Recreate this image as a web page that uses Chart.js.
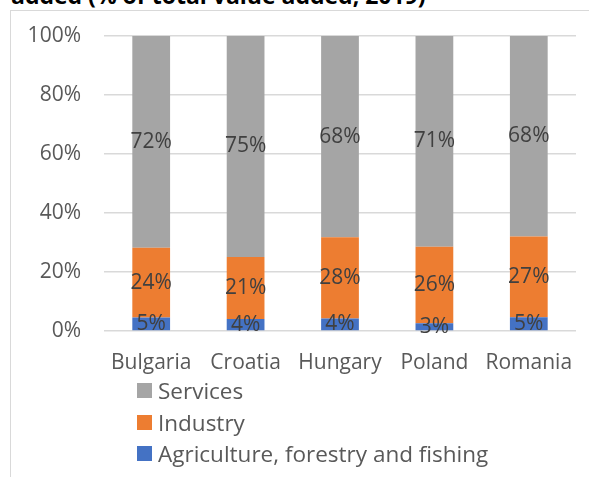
<!DOCTYPE html>
<html>
<head>
<meta charset="utf-8">
<script src="https://cdn.jsdelivr.net/npm/chart.js@4"></script>
<style>
  html, body { margin: 0; padding: 0; background: #fff; overflow: hidden; }
  #wrap { position: relative; width: 589px; height: 477px; overflow: hidden; font-family: "Open Sans", sans-serif; }
  #frame { position: absolute; left: 10px; top: 10px; width: 600px; height: 500px; border-left: 1px solid #d9d9d9; border-top: 1px solid #d9d9d9; }
  #title { position: absolute; left: 11px; top: -16px; font-size: 23px; line-height: 23px; font-weight: bold; color: #000; white-space: nowrap; }
  #chart { position: absolute; left: 0; top: 0; }
  #legend { position: absolute; left: 137px; top: 375px; }
  .item { display: flex; align-items: center; height: 31.4px; font-size: 22.5px; color: #595959; }
  .box { width: 15px; height: 15px; margin-right: 6px; }
</style>
</head>
<body>
<div id="wrap">
  <div id="frame"></div>
  <div id="title">added (% of total value added, 2019)</div>
  <canvas id="chart" width="589" height="477"></canvas>
  <div id="legend"></div>
</div>
<script>
const categories = ["Bulgaria", "Croatia", "Hungary", "Poland", "Romania"]
const agriculture = [4.6, 4.1, 4.2, 2.6, 4.7]
const industry = [23.6, 21.0, 27.6, 26.0, 27.3]
const services = [71.8, 74.9, 68.2, 71.4, 68.0]
const yTicks = [0, 20, 40, 60, 80, 100]

const seriesNames = ["Agriculture, forestry and fishing", "Industry", "Services"]
const seriesColors = ["#4472c4", "#ed7d31", "#a5a5a5"]

Chart.defaults.font.family = "'Open Sans', sans-serif"
Chart.defaults.font.size = 21
Chart.defaults.color = "#595959"

// value labels in the middle of each segment
const segmentLabels = {
	id: "segmentLabels",
	afterDatasetsDraw(chart) {
		const ctx = chart.ctx
		ctx.save()
		ctx.font = "21px 'Open Sans', sans-serif"
		ctx.fillStyle = "#404040"
		ctx.textAlign = "center"
		ctx.textBaseline = "middle"
		chart.data.datasets.forEach((ds, i) => {
			chart.getDatasetMeta(i).data.forEach((bar, j) => {
				const y = (bar.y + bar.base) / 2
				ctx.fillText(Math.round(ds.data[j]) + "%", bar.x, y)
			})
		})
		ctx.restore()
	},
}

const series = [agriculture, industry, services]

new Chart(document.getElementById("chart"), {
	type: "bar",
	data: {
		labels: categories,
		datasets: series.map((data, i) => ({
			label: seriesNames[i],
			data: data,
			backgroundColor: seriesColors[i],
			borderWidth: 0,
			barPercentage: 0.4,
			categoryPercentage: 1,
		})),
	},
	options: {
		responsive: false,
		animation: false,
		layout: { padding: { left: 0, right: 13, top: 36, bottom: 0 } },
		plugins: {
			legend: { display: false },
			tooltip: { enabled: false },
		},
		scales: {
			x: {
				stacked: true,
				grid: { display: false },
				border: { display: false },
				ticks: { padding: 11, color: "#595959" },
				afterFit: (scale) => { scale.height = 146 },
			},
			y: {
				stacked: true,
				min: 0,
				max: 100,
				afterBuildTicks: (scale) => { scale.ticks = yTicks.map((v) => ({ value: v })) },
				ticks: { padding: 23, color: "#595959", callback: (v) => v + "%" },
				grid: { color: "#d9d9d9", lineWidth: 1.5, drawTicks: false },
				border: { display: false },
				afterFit: (scale) => { scale.width = 104 },
			},
		},
	},
	plugins: [segmentLabels],
})

const legend = document.getElementById("legend")
for (let i = seriesNames.length - 1; i >= 0; i--) {
	const row = document.createElement("div")
	row.className = "item"
	row.innerHTML = '<span class="box" style="background:' + seriesColors[i] + '"></span>' + seriesNames[i]
	legend.appendChild(row)
}
</script>
</body>
</html>
